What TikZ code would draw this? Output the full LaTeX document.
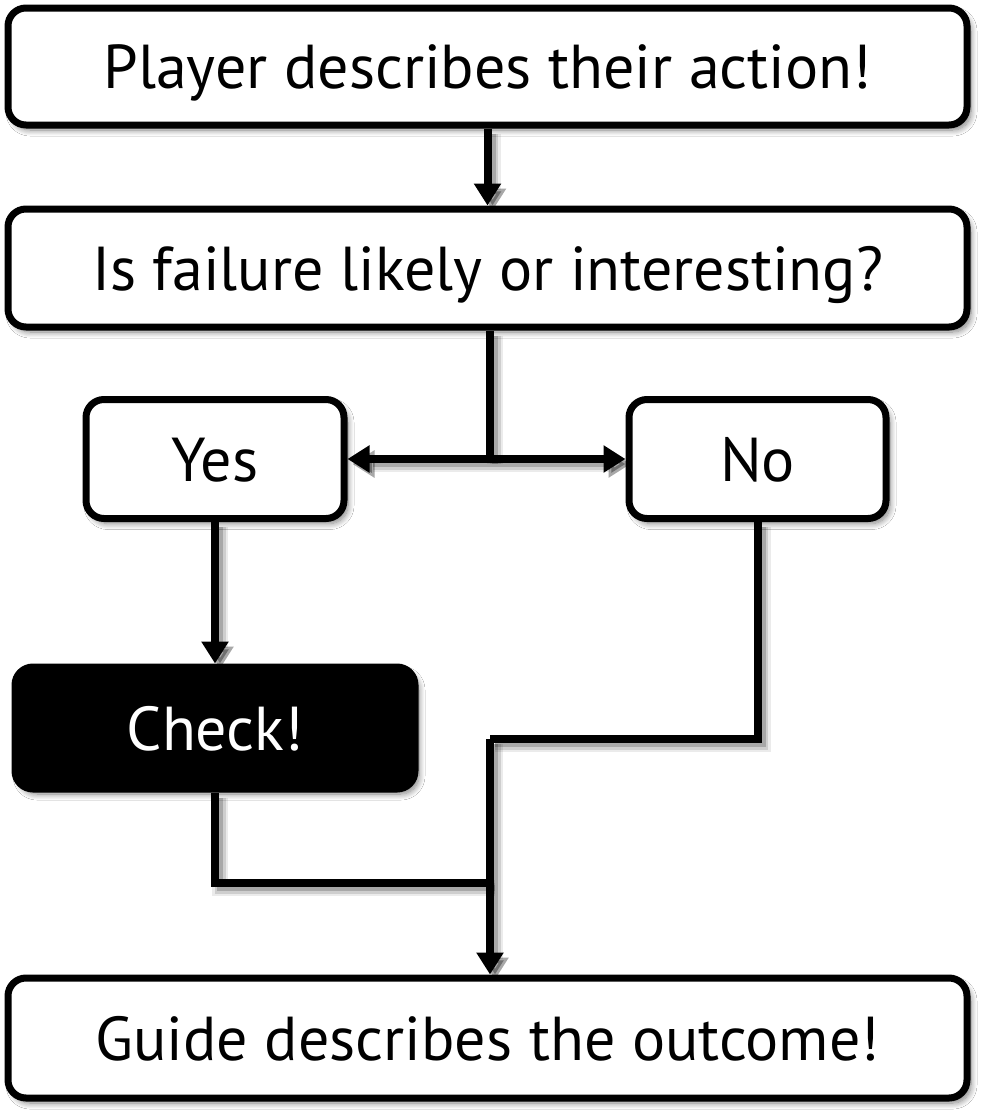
\documentclass[tikz,border=0pt]{standalone}
\usepackage{fontspec}
\setmainfont{PT Sans}
\usetikzlibrary{arrows.meta,shadows.blur}
\tikzset{
  box/.style={draw=black, line width=7pt, rounded corners=18pt, fill=white,
    font=\fontsize{62}{66}\selectfont, inner sep=0pt, text height=44pt, text depth=0pt,
    blur shadow={shadow xshift=4pt, shadow yshift=-5pt, shadow blur steps=10,
      shadow blur radius=6pt, shadow opacity=50}},
  darkbox/.style={box, fill=black, text=white},
  conn/.style={line width=8pt,
    preaction={draw=black, line width=16pt, opacity=0.08,
      transform canvas={shift={(5pt,-5pt)}}},
    preaction={draw=black, line width=11pt, opacity=0.12,
      transform canvas={shift={(5pt,-5pt)}}},
    preaction={draw=black, line width=6pt, opacity=0.18,
      transform canvas={shift={(5pt,-5pt)}}}},
  arr/.style={conn, -{Triangle[length=22pt,width=26pt]}}
}
\begin{document}
\begin{tikzpicture}[x=1pt,y=-1pt]
\fill[white] (0,0) rectangle (992,1120);
\useasboundingbox (0,0) rectangle (992,1120);

\node[box, minimum width=959pt, minimum height=117pt] (player) at (487.5,66.5) {Player describes their action!};
\node[box, minimum width=959pt, minimum height=118pt] (fail) at (487.5,268) {Is failure likely or interesting?};
\node[box, minimum width=258pt, minimum height=119pt] (yes) at (215,459) {Yes};
\node[box, minimum width=257pt, minimum height=119pt] (no) at (757.5,459) {No};
\node[darkbox, minimum width=400pt, minimum height=122pt] (check) at (215,728) {Check!};
\node[box, minimum width=959pt, minimum height=120pt] (guide) at (487.5,1038) {Guide describes the outcome!};

\coordinate (split) at (490,459);
\coordinate (cjoin) at (490,883);
\coordinate (nturn) at (757.5,739);
\coordinate (mturn) at (490,739);

\draw[arr] (player.south) -- (fail.north);
\draw[conn] (split |- fail.south) -- (split);
\draw[arr] (split) -- (yes.east);
\draw[arr] (split) -- (no.west);
\draw[arr] (yes.south) -- (check.north);
\draw[conn] (check.south) |- (cjoin);
\draw[conn] (no.south) -- (nturn) -- (mturn);
\draw[arr] (mturn) -- (mturn |- guide.north);
\end{tikzpicture}
\end{document}
